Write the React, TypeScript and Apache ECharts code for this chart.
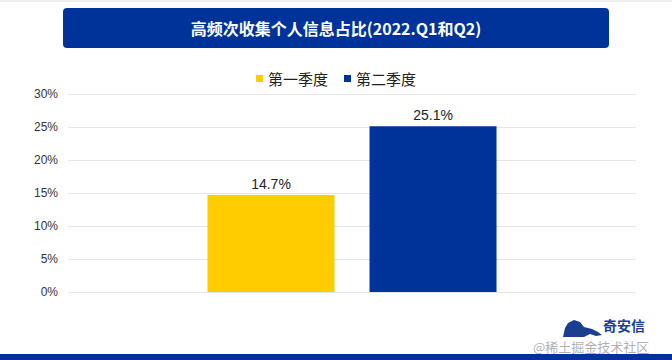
import React, { useEffect, useRef } from "react";
import * as echarts from "echarts";

const titleText = "高频次收集个人信息占比(2022.Q1和Q2)";
const categories = [""];
const seriesNames = ["第一季度", "第二季度"];
const q1Values = [14.7];
const q2Values = [25.1];
const yTicks = { min: 0, max: 30, interval: 5 };

const BLUE = "#003399";
const YELLOW = "#FFCC00";

export default function App() {
  const ref = useRef<HTMLDivElement>(null);
  useEffect(() => {
    if (!ref.current) return;
    const chart = echarts.init(ref.current, undefined, { renderer: "svg" });
    const valueLabel = {
      show: true,
      position: "top",
      distance: 4,
      formatter: (p: any) => p.value.toFixed(1) + "%",
      fontSize: 14,
      color: "#222",
      fontFamily: "Liberation Sans",
    };
    chart.setOption({
      animation: false,
      backgroundColor: "#ffffff",
      legend: {
        data: seriesNames,
        top: 66,
        left: "center",
        itemWidth: 7,
        itemHeight: 7,
        itemGap: 16,
        icon: "rect",
        textStyle: { fontSize: 15, color: "#222", fontFamily: "Noto Sans CJK SC" },
      },
      grid: { left: 68, right: 36, top: 94, bottom: 68 },
      xAxis: {
        type: "category",
        data: categories,
        axisLine: { show: false },
        axisTick: { show: false },
        axisLabel: { show: false },
      },
      yAxis: {
        type: "value",
        min: yTicks.min,
        max: yTicks.max,
        interval: yTicks.interval,
        axisLine: { show: false },
        axisTick: { show: false },
        axisLabel: {
          formatter: "{value}%",
          fontSize: 12,
          color: "#333",
          margin: 10,
          fontFamily: "Liberation Sans",
        },
        splitLine: { lineStyle: { color: "#e6e6e6", width: 1 } },
      },
      series: [
        {
          name: seriesNames[0],
          type: "bar",
          data: q1Values,
          barWidth: 127,
          barGap: "27.6%",
          itemStyle: { color: YELLOW },
          label: valueLabel,
        },
        {
          name: seriesNames[1],
          type: "bar",
          data: q2Values,
          barWidth: 127,
          itemStyle: { color: BLUE },
          label: valueLabel,
        },
      ],
      graphic: [
        { type: "rect", left: 0, top: 0, shape: { width: 672, height: 2 }, style: { fill: "#eeeeee" } },
        {
          type: "rect",
          left: 63,
          top: 8,
          shape: { width: 546, height: 40, r: 4 },
          style: { fill: BLUE },
        },
        {
          type: "text",
          x: 336,
          y: 28,
          style: {
            text: titleText,
            fill: "#ffffff",
            font: "bold 16px 'Noto Sans CJK SC'",
            align: "center",
            verticalAlign: "middle",
          },
        },
        {
          type: "polygon",
          shape: {
            points: [
              [563, 337], [565, 328], [568, 323], [574, 320], [580, 322], [584, 327],
              [592, 329], [598, 332], [602, 335], [596, 336], [590, 334], [584, 337],
            ],
          },
          style: { fill: "#1a3f8f" },
        },
        {
          type: "text",
          x: 603,
          y: 325,
          style: {
            text: "奇安信",
            fill: "#1a3f8f",
            font: "bold 14px 'Noto Sans CJK SC'",
            align: "left",
            verticalAlign: "middle",
          },
        },
        {
          type: "text",
          x: 533,
          y: 346,
          style: {
            text: "@稀土掘金技术社区",
            fill: "rgba(150,150,150,0.75)",
            font: "13px 'Noto Sans CJK SC'",
            align: "left",
            verticalAlign: "middle",
          },
        },
        { type: "rect", left: 0, top: 354, shape: { width: 672, height: 6 }, style: { fill: BLUE } },
      ],
    });
    return () => chart.dispose();
  }, []);
  return (
    <div
      ref={ref}
      style={{ position: "fixed", left: 0, top: 0, width: 672, height: 360 }}
    />
  );
}
